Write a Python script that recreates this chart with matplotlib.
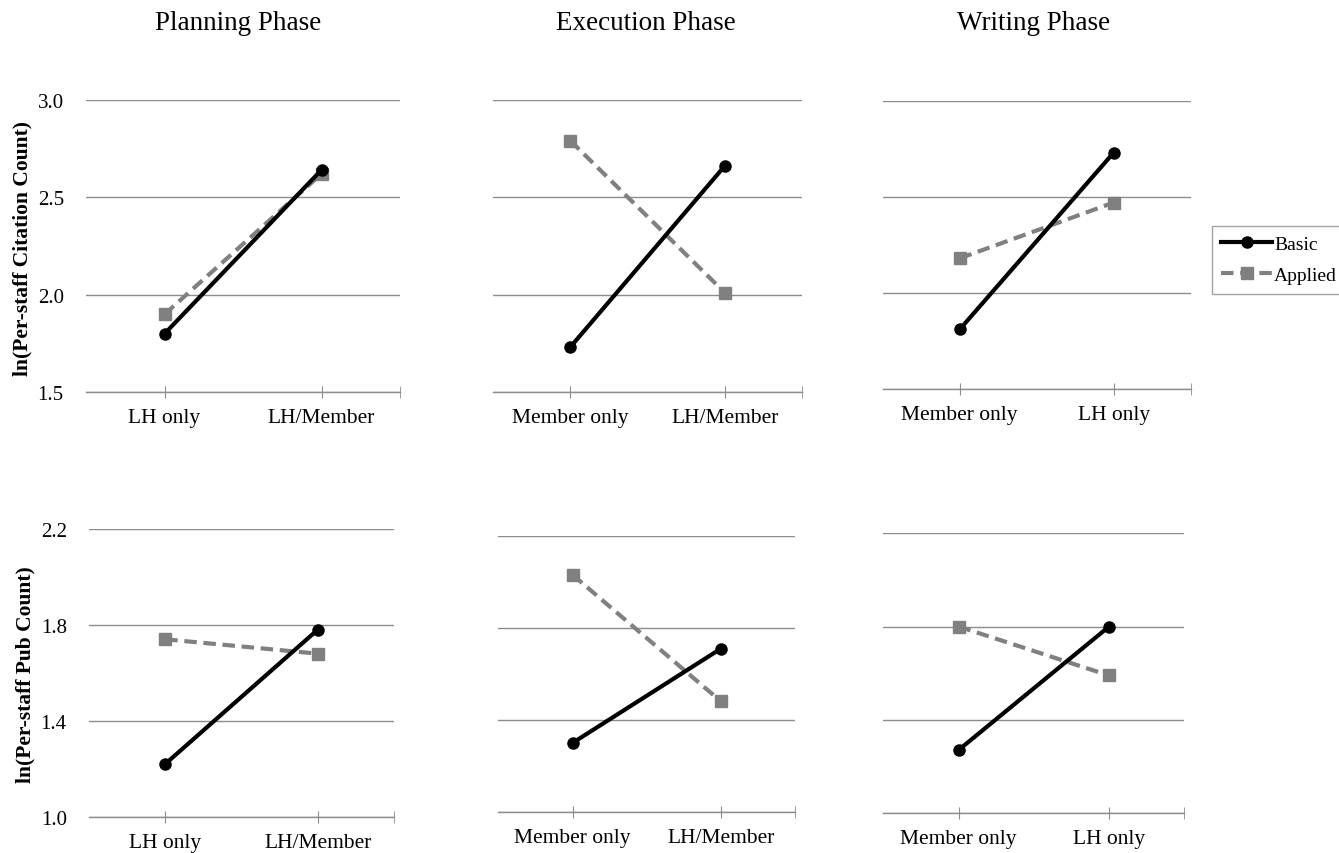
import matplotlib
matplotlib.use('Agg')
import matplotlib.pyplot as plt
from matplotlib.lines import Line2D

plt.rcParams['font.family'] = ['Liberation Serif', 'DejaVu Serif']

phases = ['Planning Phase', 'Execution Phase', 'Writing Phase']
cats_top = [['LH only', 'LH/Member'], ['Member only', 'LH/Member'], ['Member only', 'LH only']]
cats_bottom = [['LH only', 'LH/Member'], ['Member only', 'LH/Member'], ['Member only', 'LH only']]

# ln(per-staff citation count)
cite_basic = [[1.80, 2.64], [1.73, 2.66], [1.81, 2.73]]
cite_applied = [[1.90, 2.62], [2.79, 2.01], [2.18, 2.47]]

# ln(per-staff pub count)
pub_basic = [[1.22, 1.78], [1.30, 1.71], [1.27, 1.80]]
pub_applied = [[1.74, 1.68], [2.03, 1.48], [1.80, 1.59]]

top_ticks = [1.5, 2.0, 2.5, 3.0]
bottom_ticks = [1.0, 1.4, 1.8, 2.2]

W, H = 1339, 854
fig = plt.figure(figsize=(W / 100, H / 100), dpi=100)

# axes boxes in pixels: left, right, top, bottom
boxes_top = [(86, 400, 100.7, 393.3), (493, 802, 100.7, 393), (882.7, 1190.7, 101.7, 390)]
boxes_bottom = [(89, 394, 530, 817.7), (498.3, 795.3, 536.7, 813), (883.3, 1184.3, 534.3, 814)]

grid_col = '#8c8c8c'
basic_col = 'black'
applied_col = '#808080'


def make_axes(box):
    l, r, t, b = box
    return fig.add_axes([l / W, 1 - b / H, (r - l) / W, (b - t) / H])


def draw_panel(ax, cats, basic, applied, yticks, show_y):
    x = list(range(len(cats)))
    ax.set_xlim(-0.5, 1.5)
    ax.set_ylim(yticks[0], yticks[-1])
    ax.set_yticks(yticks)
    ax.yaxis.grid(True, color=grid_col, linewidth=1)
    ax.set_axisbelow(True)
    for s in ['left', 'right', 'top']:
        ax.spines[s].set_visible(False)
    ax.spines['bottom'].set_color(grid_col)
    ax.spines['bottom'].set_linewidth(1)
    ax.set_xticks(x)
    ax.set_xticklabels(cats, fontsize=15.5)
    ax.set_xticks([1.5], minor=True)
    ax.tick_params(axis='x', which='both', direction='inout', length=9, color=grid_col, pad=7)
    ax.tick_params(axis='y', length=0, labelsize=15, pad=16)
    if show_y:
        ax.set_yticklabels(['%.1f' % v for v in yticks])
    else:
        ax.set_yticklabels([])
    ax.plot(x, applied, color=applied_col, linestyle=(0, (3, 1.6)), linewidth=3,
            marker='s', markersize=8, zorder=3)
    ax.plot(x, basic, color=basic_col, linewidth=3, marker='o', markersize=8, zorder=4)


for i in range(3):
    ax = make_axes(boxes_top[i])
    draw_panel(ax, cats_top[i], cite_basic[i], cite_applied[i], top_ticks, i == 0)
    ax2 = make_axes(boxes_bottom[i])
    draw_panel(ax2, cats_bottom[i], pub_basic[i], pub_applied[i], bottom_ticks, i == 0)

fig.text(22 / W, 1 - 248 / H, 'ln(Per-staff Citation Count)', fontsize=15.5,
         fontweight='bold', rotation=90, ha='center', va='center')
fig.text(25 / W, 1 - 675 / H, 'ln(Per-staff Pub Count)', fontsize=15.5,
         fontweight='bold', rotation=90, ha='center', va='center')

title_x = [238, 646, 1034]
for name, tx in zip(phases, title_x):
    fig.text(tx / W, 1 - 23 / H, name, fontsize=19.5, ha='center', va='center')

handles = [
    Line2D([], [], color=basic_col, linewidth=3, marker='o', markersize=8),
    Line2D([], [], color=applied_col, linestyle=(0, (3, 1.6)), linewidth=3, marker='s', markersize=8),
]
leg = fig.legend(handles, ['Basic', 'Applied'], loc='upper left',
                 bbox_to_anchor=(1211.7 / W, 1 - 226.7 / H), fontsize=14,
                 frameon=True, fancybox=False, edgecolor=grid_col, handlelength=2.6,
                 handletextpad=0.1, borderpad=0.5, labelspacing=0.7, borderaxespad=0)
leg.get_frame().set_linewidth(1)

fig.savefig('out.png', dpi=100)
